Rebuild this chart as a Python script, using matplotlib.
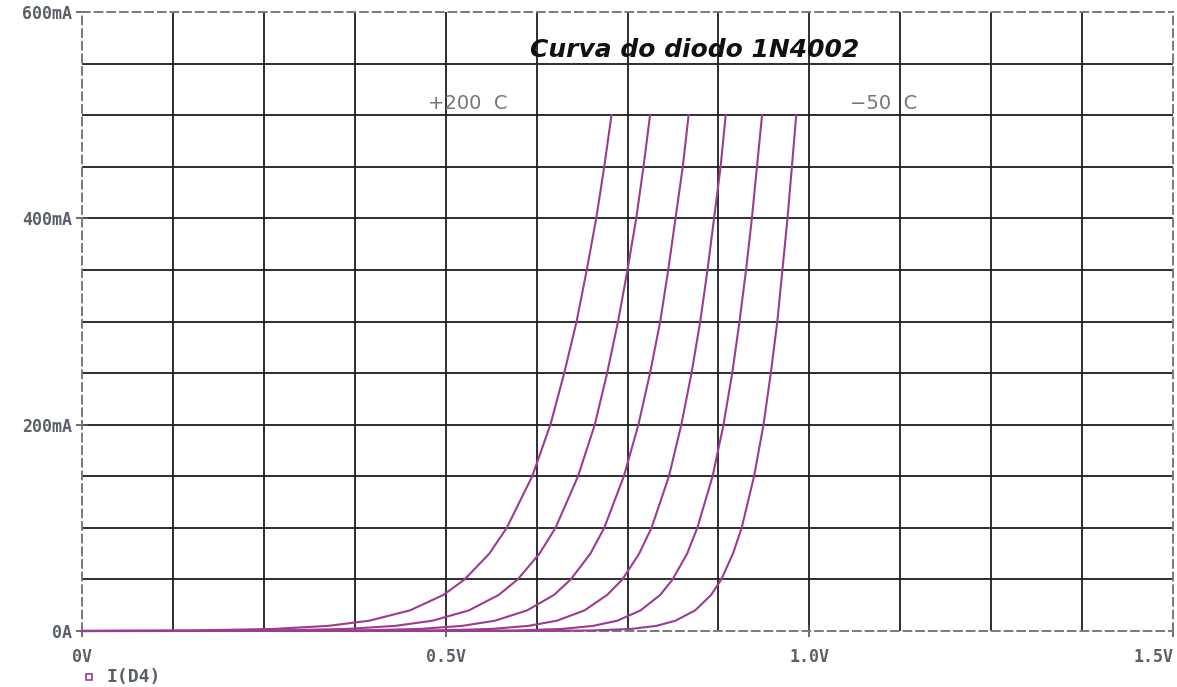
import matplotlib.pyplot as plt
import numpy as np

# Diode forward curves (V in volts, I in mA)
amps = [0, 0.1, 0.5, 2, 5, 10, 20, 35, 50, 75, 100, 150, 200, 250, 300, 350, 400, 450, 500]

v_p200 = [0.0, 0.022, 0.152, 0.264, 0.339, 0.395, 0.451, 0.497, 0.526, 0.560, 0.584, 0.619, 0.644, 0.663, 0.680, 0.694, 0.707, 0.718, 0.728]
v_p150 = [0.0, 0.148, 0.265, 0.365, 0.431, 0.482, 0.532, 0.573, 0.599, 0.629, 0.651, 0.682, 0.705, 0.722, 0.737, 0.750, 0.762, 0.772, 0.781]
v_p100 = [0.0, 0.274, 0.376, 0.465, 0.523, 0.568, 0.612, 0.649, 0.672, 0.699, 0.718, 0.745, 0.765, 0.781, 0.795, 0.806, 0.816, 0.826, 0.834]
v_p50 = [0.0, 0.398, 0.487, 0.563, 0.614, 0.653, 0.691, 0.722, 0.743, 0.766, 0.783, 0.807, 0.824, 0.838, 0.850, 0.860, 0.869, 0.878, 0.885]
v_0 = [0.0, 0.520, 0.596, 0.660, 0.703, 0.736, 0.768, 0.795, 0.812, 0.832, 0.846, 0.867, 0.882, 0.894, 0.904, 0.913, 0.921, 0.928, 0.935]
v_m50 = [0.0, 0.641, 0.702, 0.755, 0.790, 0.816, 0.843, 0.865, 0.879, 0.895, 0.907, 0.924, 0.937, 0.947, 0.956, 0.963, 0.970, 0.976, 0.982]

curves = [v_p200, v_p150, v_p100, v_p50, v_0, v_m50]

x_ticks = [0, 0.5, 1.0, 1.5]
x_labels = ['0V', '0.5V', '1.0V', '1.5V']
y_ticks = [0, 200, 400, 600]
y_labels = ['0A', '200mA', '400mA', '600mA']

purple = '#9a3c90'
label_gray = '#5a6068'

fig = plt.figure(figsize=(11.77, 6.87), dpi=100)
ax = fig.add_axes([82 / 1177, 1 - 631 / 687, 1091 / 1177, 619 / 687])

# grid every 0.125 V and 50 mA
for gx in np.arange(0.125, 1.5, 0.125):
    ax.axvline(gx, color='#1e1e1e', lw=1.3, zorder=1)
for gy in np.arange(50, 600, 50):
    ax.axhline(gy, color='#1e1e1e', lw=1.3, zorder=1)

for v in curves:
    ax.plot(v, amps, color=purple, lw=1.5, zorder=3, clip_on=False,
            solid_joinstyle='round')

ax.set_xlim(0, 1.5)
ax.set_ylim(0, 600)

for side in ['top', 'bottom', 'left', 'right']:
    ax.spines[side].set_linestyle((0, (4, 2.5)))
    ax.spines[side].set_color('#7a7a7a')
    ax.spines[side].set_linewidth(1.4)

ax.set_xticks(x_ticks)
ax.set_xticklabels(x_labels)
ax.set_yticks(y_ticks)
ax.set_yticklabels(y_labels)
ax.tick_params(direction='inout', length=8, width=1.2, color='#555555',
               labelcolor=label_gray, labelsize=12)
ax.tick_params(axis='x', pad=8)
ax.tick_params(axis='y', pad=3)
for lab in ax.get_xticklabels() + ax.get_yticklabels():
    lab.set_family('DejaVu Sans Mono')
    lab.set_fontweight('bold')
ax.get_xticklabels()[-1].set_horizontalalignment('right')

ax.text(0.616, 563, 'Curva do diodo 1N4002', fontsize=18, fontstyle='italic',
        fontweight='bold', color='#111111', ha='left', va='center', zorder=5)
ax.text(0.476, 511, '+200  C', fontsize=14, color='#757575', ha='left', va='center', zorder=5)
ax.text(1.056, 511, '\u221250  C', fontsize=14, color='#757575', ha='left', va='center', zorder=5)

# legend entry below the plot
ax.plot([89 / 1177], [1 - 677 / 687], transform=fig.transFigure, clip_on=False,
        marker='s', ms=5, mfc='white', mec=purple, mew=1.2, ls='none')
fig.text(107 / 1177, 1 - 677 / 687, 'I(D4)', fontsize=13, color=label_gray,
         family='DejaVu Sans Mono', fontweight='bold', ha='left', va='center')

fig.savefig('out.png', dpi=100)
